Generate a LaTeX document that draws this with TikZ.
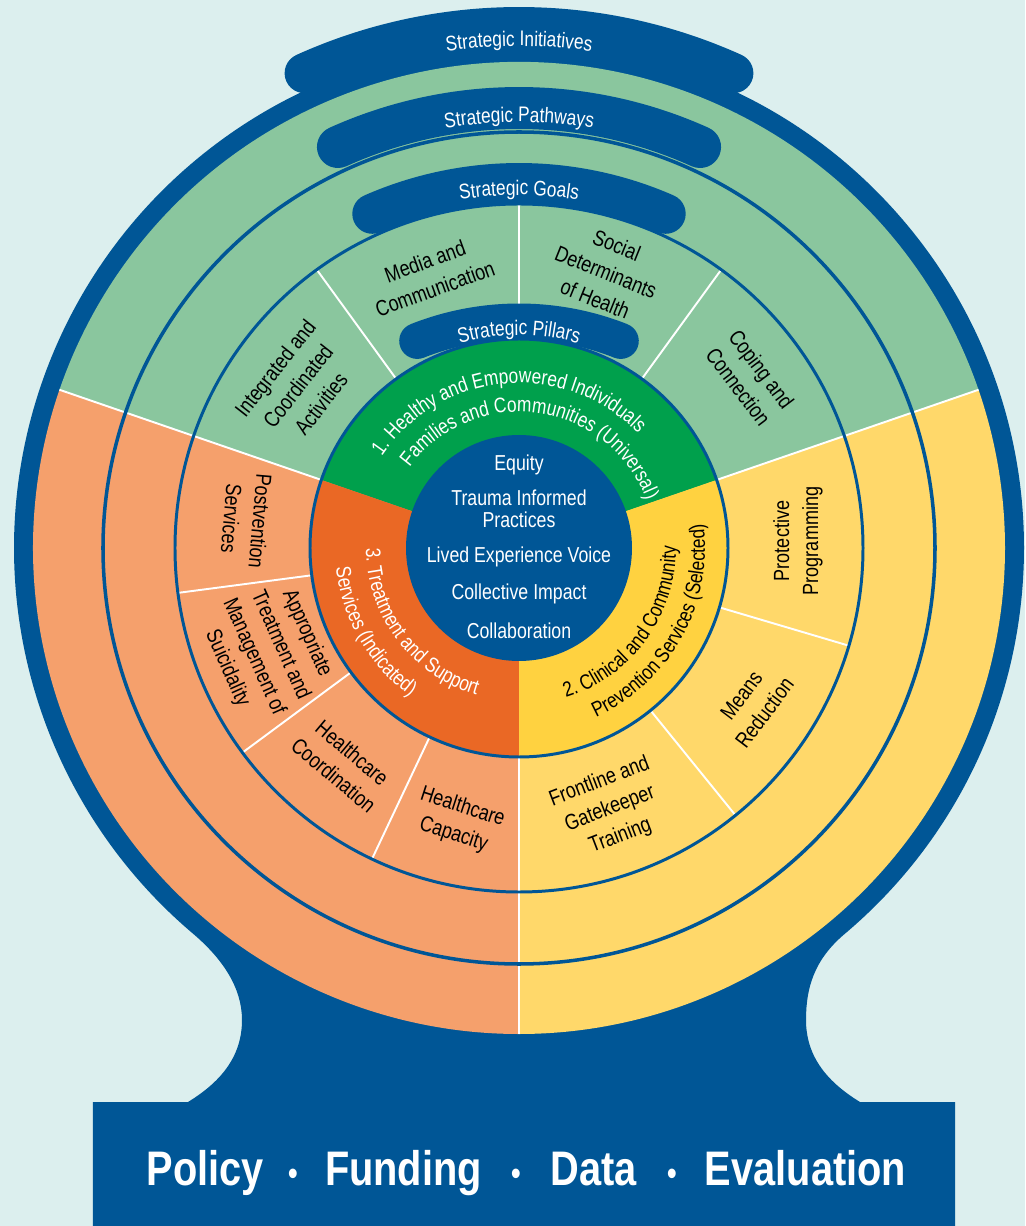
\documentclass[tikz,border=0pt]{standalone}
\usepackage{fontspec}
\setmainfont{Liberation Sans}[FakeStretch=0.82]
\usetikzlibrary{decorations.text}
\definecolor{bgcyan}{RGB}{220,239,238}
\definecolor{ringblue}{RGB}{0,86,150}
\definecolor{leafgreen}{RGB}{138,198,158}
\definecolor{peach}{RGB}{245,160,108}
\definecolor{sand}{RGB}{255,216,106}
\definecolor{pillgreen}{RGB}{0,160,76}
\definecolor{pillorange}{RGB}{234,104,37}
\definecolor{pillyellow}{RGB}{255,210,64}
\newcommand{\lblfont}{\fontsize{12}{16.5}\selectfont}
\newcommand{\goalfont}{\fontsize{12.5}{16.5}\selectfont}
\newcommand{\corefont}{\fontsize{12.3}{12.8}\selectfont}
\newcommand{\basefont}{\fontsize{27.6}{30}\selectfont\bfseries}
% curved label: colour, radius, start angle, end angle, text
\newcommand{\arclabel}[5]{\path[decorate,decoration={text along path,text align=center,
  text={|\lblfont\color{#1}|#5}}] (#3:#2) arc[start angle=#3,end angle=#4,radius=#2];}
\tikzset{
  goal/.style={font=\goalfont,align=center,inner sep=0pt},
  core/.style={font=\corefont,text=white,align=center,inner sep=0pt},
  baseword/.style={font=\basefont,text=white,anchor=base,inner sep=0pt},
  divider/.style={white,line width=1.1pt},
  ring/.style={ringblue,line width=1.7pt},
  tabband/.style={ringblue,line cap=round},
}
\begin{document}
\begin{tikzpicture}[x=0.02cm,y=0.02cm]
\useasboundingbox (-519,-678) rectangle (506,548);
\fill[bgcyan] (-519,-678) rectangle (506,548);
% blue body and stand
\fill[ringblue] (-49.9:505) arc[start angle=-49.9,end angle=229.7,radius=505]
  .. controls (-296,-411) and (-277,-440) .. (-277,-472)
  .. controls (-277,-510) and (-300,-535) .. (-331,-554)
  -- (-426,-554) -- (-426,-678) -- (436,-678) -- (436,-554) -- (341,-554)
  .. controls (310,-535) and (287,-510) .. (287,-472)
  .. controls (287,-440) and (295,-412) .. cycle;
\draw[tabband,line width=0.8cm] (114.3:521) arc[start angle=114.3,end angle=65.7,radius=521];
% outer sectors
\fill[leafgreen] (0,0) -- (19:486) arc[start angle=19,end angle=161,radius=486] -- cycle;
\fill[peach] (0,0) -- (161:486) arc[start angle=161,end angle=270,radius=486] -- cycle;
\fill[sand] (0,0) -- (270:486) arc[start angle=270,end angle=379,radius=486] -- cycle;
\foreach \a in {19,161,270} \draw[divider] (\a:209) -- (\a:486);
\foreach \a in {54,90,126,-16.5,-51,187.5,216.5,244.7} \draw[divider] (\a:209) -- (\a:344);
\draw[ring] (0,0) circle[radius=344];
\draw[ring,line width=2pt] (0,0) circle[radius=416];
% tabs
\draw[tabband,line width=0.84cm] (114.3:440) arc[start angle=114.3,end angle=65.7,radius=440];
\draw[tabband,line width=0.8cm] (113.7:365) arc[start angle=113.7,end angle=66.3,radius=365];
\draw[tabband,line width=0.72cm] ([shift={(0,-50)}]111.6:276.5) arc[start angle=111.6,end angle=68.4,radius=276.5];
% pillars
\fill[pillgreen] (0,0) -- (19:209) arc[start angle=19,end angle=161,radius=209] -- cycle;
\fill[pillorange] (0,0) -- (161:209) arc[start angle=161,end angle=270,radius=209] -- cycle;
\fill[pillyellow] (0,0) -- (270:209) arc[start angle=270,end angle=379,radius=209] -- cycle;
\draw[ring] (0,0) circle[radius=209];
\fill[ringblue] (0,0) circle[radius=113];
% core values
\node[core] (equity) at (0,83) {Equity};
\node[core] (trauma) at (0,39) {Trauma Informed\\Practices};
\node[core] (lived) at (0,-9) {Lived Experience Voice};
\node[core] (impact) at (0,-46) {Collective Impact};
\node[core] (collab) at (0,-83) {Collaboration};
% tab titles
\arclabel{white}{502}{120}{60}{Strategic Initiatives}
\arclabel{white}{426}{125}{55}{Strategic Pathways}
\arclabel{white}{353}{130}{50}{Strategic Goals}
\arclabel{white}{213}{140}{40}{Strategic Pillars}
% pillar titles
\arclabel{white}{165}{165}{25}{1. Healthy and Empowered Individuals}
\arclabel{white}{136}{152}{12}{Families and Communities (Universal)}
\arclabel{black}{157}{-101}{29}{2. Clinical and Community}
\arclabel{black}{186}{-94}{36}{Prevention Services (Selected)}
\arclabel{white}{153}{152}{282}{3. Treatment and Support}
\arclabel{white}{184}{145}{275}{Services (Indicated)}
% goals
\node[goal,rotate=52] (integrated) at (-221,162) {Integrated and\\Coordinated\\Activities};
\node[goal,rotate=20] (media) at (-89,273) {Media and\\Communication};
\node[goal,rotate=-22] (social) at (87,276) {Social\\Determinants\\of Health};
\node[goal,rotate=-53] (coping) at (231,170) {Coping and\\Connection};
\node[goal,rotate=90] (protective) at (279,7) {Protective\\Programming};
\node[goal,rotate=53] (means) at (234,-156) {Means\\Reduction};
\node[goal,rotate=21] (frontline) at (91,-261) {Frontline and\\Gatekeeper\\Training};
\node[goal,rotate=-18] (capacity) at (-61,-273) {Healthcare\\Capacity};
\node[goal,rotate=-40] (coordination) at (-176,-216) {Healthcare\\Coordination};
\node[goal,rotate=-66] (appropriate) at (-252,-103) {Appropriate\\Treatment and\\Management of\\Suicidality};
\node[goal,rotate=-95] (postvention) at (-273,28) {Postvention\\Services};
% base
\foreach \w/\x in {Policy/-313.5,Funding/-115.5,Data/75,Evaluation/286.5}
  \node[baseword] (\w) at (\x,-637) {\w};
\foreach \n/\x in {dotA/-226,dotB/-3,dotC/153}
  \node[baseword,font=\fontsize{20}{22}\selectfont] (\n) at (\x,-637) {•};
\end{tikzpicture}
\end{document}
